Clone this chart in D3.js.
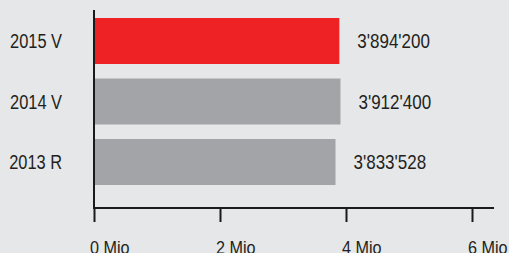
<!DOCTYPE html>
<html>
<head>
<meta charset="utf-8">
<script src="https://cdn.jsdelivr.net/npm/d3@7"></script>
<style>
  html, body { margin: 0; padding: 0; background: #e6e7e9; }
  svg { display: block; }
  text { font-family: "Liberation Sans", Arial, sans-serif; fill: #231f20; }
</style>
</head>
<body>
<div id="chart"></div>
<script>
const categories = ["2015 V", "2014 V", "2013 R"];
const values = [3894200, 3912400, 3833528];
const valueLabels = ["3'894'200", "3'912'400", "3'833'528"];
const tickValues = [0, 2000000, 4000000, 6000000];
const tickLabels = ["0 Mio", "2 Mio", "4 Mio", "6 Mio"];
const highlight = "2015 V";

const width = 509;
const height = 253;

const svg = d3.select("#chart")
  .append("svg")
  .attr("width", width)
  .attr("height", height)
  .style("background-color", "#e6e7e9");

const x = d3.scaleLinear().domain([0, 6000000]).range([94, 472]);

const y = d3.scaleBand()
  .domain(categories)
  .range([10.75, 192.25])
  .paddingInner(0.24)
  .paddingOuter(0.12);

// bars
svg.append("g")
  .selectAll("rect")
  .data(categories)
  .enter().append("rect")
  .attr("x", x(0))
  .attr("y", d => y(d))
  .attr("width", (d, i) => x(values[i]) - x(0))
  .attr("height", y.bandwidth())
  .attr("fill", d => d === highlight ? "#ee2225" : "#a3a4a7");

// value labels (squeezed to look like the condensed face of the original)
svg.append("g")
  .selectAll("text")
  .data(categories)
  .enter().append("text")
  .attr("transform", (d, i) => `translate(${x(values[i]) + 18},${y(d) + y.bandwidth() / 2}) scale(0.85,1)`)
  .attr("dy", "0.35em")
  .attr("font-size", "20px")
  .text((d, i) => valueLabels[i]);

// category labels
svg.append("g")
  .selectAll("text")
  .data(categories)
  .enter().append("text")
  .attr("transform", d => `translate(62,${y(d) + y.bandwidth() / 2}) scale(0.8,1)`)
  .attr("dy", "0.36em")
  .attr("text-anchor", "end")
  .attr("font-size", "20.5px")
  .text(d => d);

// vertical axis line
svg.append("line")
  .attr("x1", x(0)).attr("x2", x(0))
  .attr("y1", 10).attr("y2", 208)
  .attr("stroke", "#1a1a1a")
  .attr("stroke-width", 2);

// bottom axis
const xAxis = d3.axisBottom(x)
  .tickValues(tickValues)
  .tickSize(14)
  .tickSizeOuter(0)
  .tickFormat((d, i) => tickLabels[i]);

const gx = svg.append("g")
  .attr("transform", "translate(0,208)")
  .call(xAxis);

gx.select(".domain").remove();
gx.append("line")
  .attr("x1", x(0) - 1).attr("x2", 494)
  .attr("stroke", "#1a1a1a")
  .attr("stroke-width", 2);
gx.selectAll(".tick line")
  .attr("stroke", "#1a1a1a")
  .attr("stroke-width", 2);
gx.selectAll(".tick text")
  .attr("text-anchor", "start")
  .attr("y", 0)
  .attr("dy", 0)
  .attr("transform", "translate(-4.5,45.5) scale(0.9,1)")
  .attr("font-size", "18px")
  .attr("font-family", "'Liberation Sans', Arial, sans-serif")
  .attr("fill", "#231f20");
</script>
</body>
</html>
